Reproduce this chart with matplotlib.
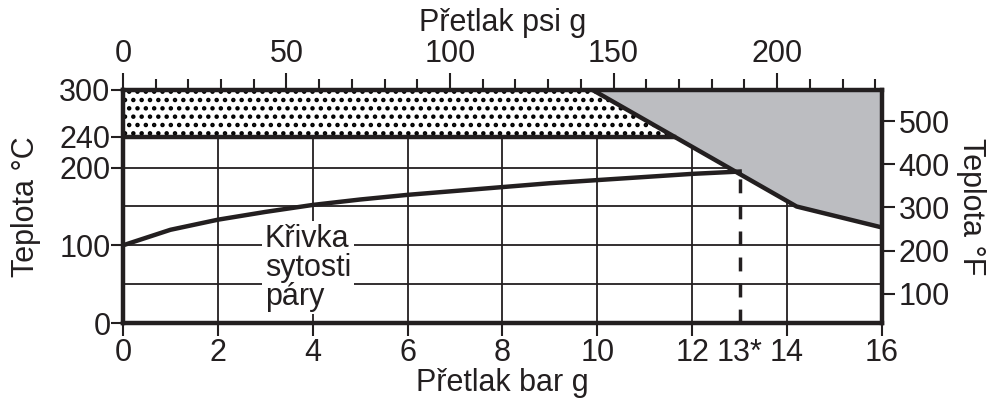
import numpy as np
import matplotlib.pyplot as plt

plt.rcParams['font.family'] = ['Liberation Sans', 'DejaVu Sans']
plt.rcParams['hatch.linewidth'] = 2.0

# saturation curve (bar g -> deg C)
sat_bar = [0, 1, 2, 3, 4, 5, 6, 7, 8, 9, 10, 11, 12, 13]
sat_temp = [100, 120, 133, 143, 152, 159, 165, 170, 175, 180, 184, 188, 192, 195]

# limit line of the grey region
lim_bar = [9.9, 14.2, 16]
lim_temp = [300, 150, 123]

bar_ticks = [0, 2, 4, 6, 8, 10, 12, 13, 14, 16]
bar_labels = ['0', '2', '4', '6', '8', '10', '12', '13*', '14', '16']
psi_major = [0, 50, 100, 150, 200]
psi_minor = list(range(0, 240, 10))
c_ticks = [0, 100, 200, 240, 300]
f_ticks = [100, 200, 300, 400, 500]
grid_c = [50, 100, 150, 200]
grid_bar = [2, 4, 6, 8, 10, 12, 14]

ink = '#231f20'
fs = 22
fig = plt.figure(figsize=(9.94, 4.03), dpi=100)
ax = fig.add_axes([0.1237, 0.1985, 0.7636, 0.5782])
ax.set_xlim(0, 16)
ax.set_ylim(0, 300)

# grid
ax.hlines(grid_c, 0, 16, color=ink, lw=1.3, zorder=1)
ax.vlines(grid_bar, 0, 240, color=ink, lw=1.3, zorder=1)

# dotted band 240..300
x240 = np.interp(240, lim_temp[::-1], lim_bar[::-1])
ax.fill([0, x240, lim_bar[0], 0], [240, 240, 300, 300], facecolor='white',
        edgecolor='black', hatch='..', lw=0, zorder=2)
ax.plot([0, x240], [240, 240], color=ink, lw=3.2, zorder=4)

# grey region
ax.fill(lim_bar + [16], lim_temp + [300], color='#bcbdc1', lw=0, zorder=3)
ax.plot(lim_bar, lim_temp, color=ink, lw=3.2, zorder=4, solid_capstyle='butt')

# saturation curve
ax.plot(sat_bar, sat_temp, color=ink, lw=3.2, zorder=5)
ax.plot([13, 13], [0, sat_temp[-1]], color=ink, lw=2.5, ls=(0, (4, 3.5)), zorder=5)

ax.text(2.99, 71, 'Křivka\nsytosti\npáry', fontsize=fs, color=ink, ha='left',
        va='center', linespacing=0.95, zorder=6,
        bbox=dict(facecolor='white', edgecolor='none', pad=2))

for s in ax.spines.values():
    s.set_linewidth(3.2)
    s.set_color(ink)
    s.set_zorder(7)

ax.set_xticks(bar_ticks)
ax.set_xticklabels(bar_labels)
ax.xaxis.get_major_ticks()[7].tick1line.set_visible(False)
ax.set_yticks(c_ticks)
ax.tick_params(labelsize=fs, colors=ink, width=1.5, length=9, pad=0)
ax.tick_params(axis='x', pad=2)
ax.set_xlabel('Přetlak bar g', fontsize=fs, color=ink, labelpad=0)
ax.set_ylabel('Teplota °C', fontsize=fs, color=ink, labelpad=13)

top = ax.secondary_xaxis('top', functions=(lambda b: b * 14.5038, lambda p: p / 14.5038))
top.set_xticks(psi_major)
top.set_xticks(psi_minor, minor=True)
top.tick_params(which='major', length=12, width=1.5, labelsize=fs, colors=ink, pad=3)
top.tick_params(which='minor', length=8, width=1.5, colors=ink)
top.spines['top'].set_visible(False)
top.set_xlabel('Přetlak psi g', fontsize=fs, color=ink, labelpad=6)

right = ax.secondary_yaxis('right', functions=(lambda c: c * 9 / 5 + 32, lambda f: (f - 32) * 5 / 9))
right.set_yticks(f_ticks)
right.tick_params(length=9, width=1.5, labelsize=fs, colors=ink, pad=3)
right.spines['right'].set_visible(False)
right.set_ylabel('Teplota °F', fontsize=fs, color=ink, rotation=-90, labelpad=26)

fig.savefig('out.png', dpi=100)
